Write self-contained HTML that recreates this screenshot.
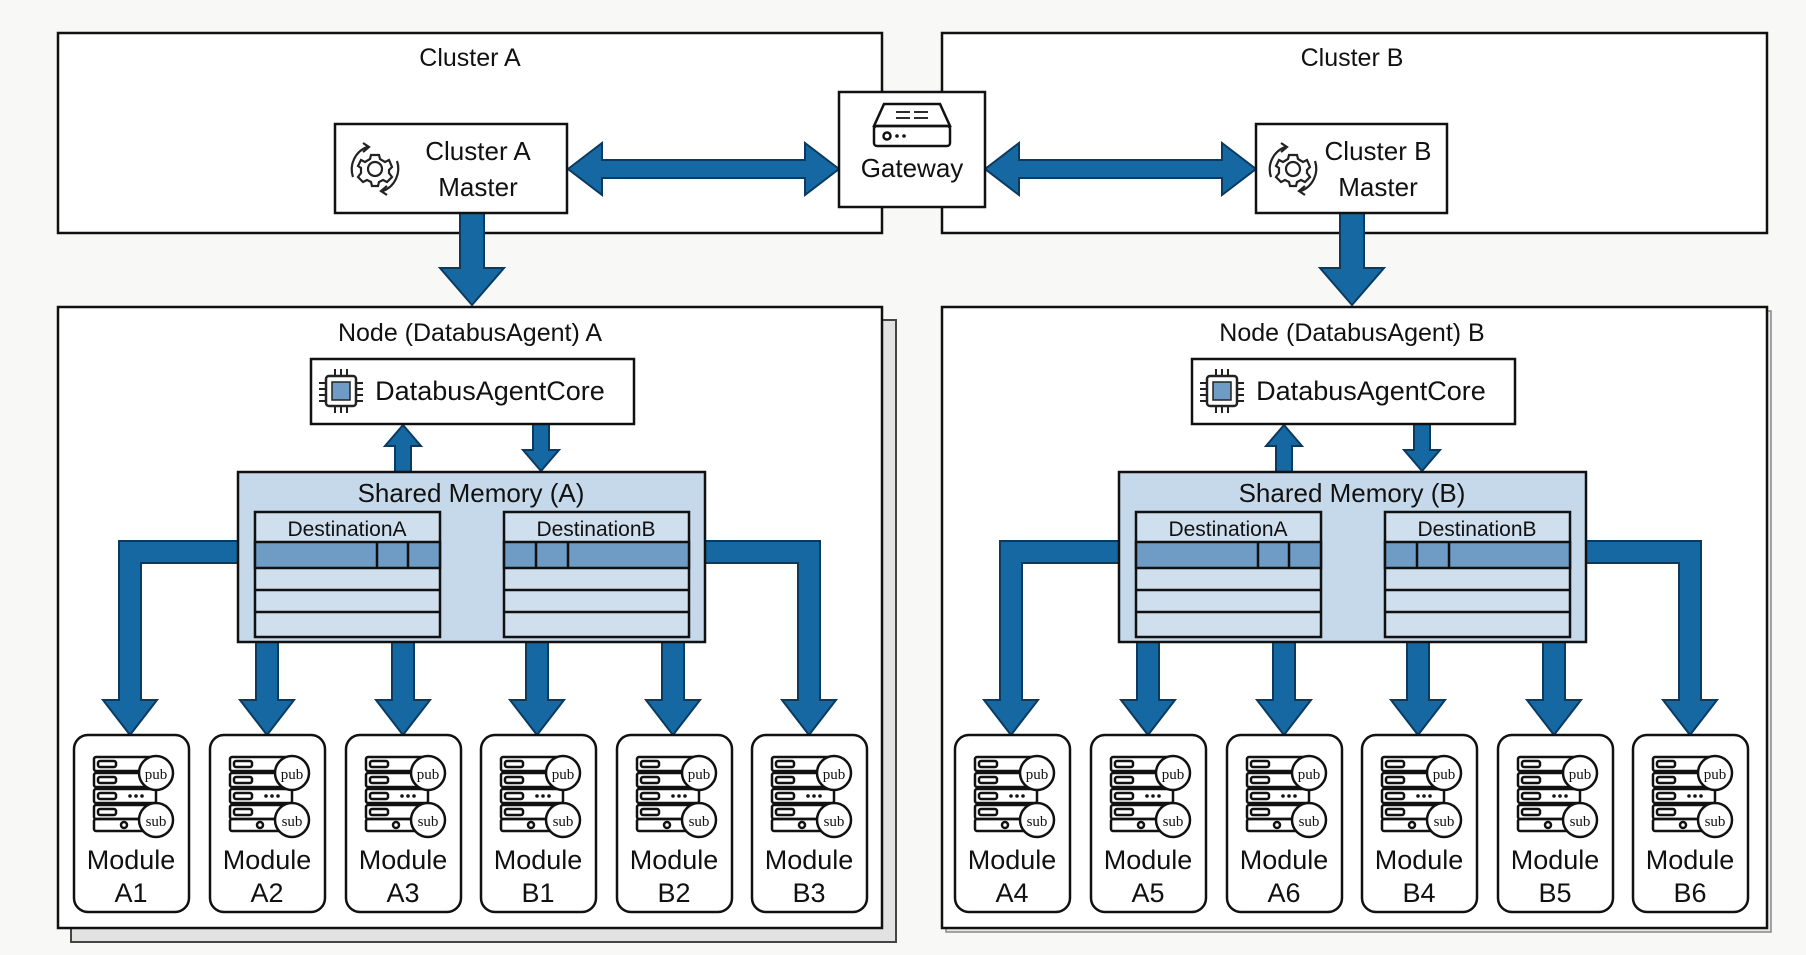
<!DOCTYPE html>
<html><head><meta charset="utf-8"><style>
html,body{margin:0;padding:0;background:#f8f8f6;}
svg{display:block;font-family:"Liberation Sans",sans-serif;}
</style></head><body>
<svg width="1806" height="955" viewBox="0 0 1806 955" xmlns="http://www.w3.org/2000/svg">
<defs>
<g id="mod">
  <rect x="0" y="0" width="115" height="177" rx="14" fill="#fff" stroke="#111" stroke-width="2.5"/>
  <g fill="none" stroke="#111" stroke-width="2.5">
    <rect x="20" y="22" width="62" height="14" rx="2"/>
    <rect x="20" y="38" width="62" height="14" rx="2"/>
    <rect x="20" y="54" width="62" height="14" rx="2"/>
    <rect x="20" y="70" width="62" height="14" rx="2"/>
    <rect x="20" y="84" width="62" height="12" rx="2"/>
    <rect x="24" y="26" width="18" height="6" rx="2"/>
    <rect x="24" y="42" width="18" height="6" rx="2"/>
    <rect x="24" y="58" width="18" height="6" rx="2"/>
    <rect x="24" y="74" width="18" height="6" rx="2"/>
    <circle cx="50" cy="90" r="3"/>
    <circle cx="82" cy="38" r="17" fill="#fff"/>
    <circle cx="82" cy="85" r="17" fill="#fff"/>
  </g>
  <g fill="#111"><circle cx="56" cy="61" r="1.8"/><circle cx="62" cy="61" r="1.8"/><circle cx="68" cy="61" r="1.8"/></g>
  <text x="82" y="44" font-size="15" text-anchor="middle" font-family="Liberation Serif,serif" fill="#111">pub</text>
  <text x="82" y="91" font-size="15" text-anchor="middle" font-family="Liberation Serif,serif" fill="#111">sub</text>
</g>
<g id="tbl">
  <rect x="0" y="0" width="185" height="125" fill="#cfdfee" stroke="#111" stroke-width="2.5"/>
  <rect x="0" y="30" width="185" height="26" fill="#6f9cc4" stroke="#111" stroke-width="2.5"/>
  <line x1="0" y1="78" x2="185" y2="78" stroke="#111" stroke-width="2.5"/>
  <line x1="0" y1="100" x2="185" y2="100" stroke="#111" stroke-width="2.5"/>
</g>
<g id="gear" fill="none" stroke="#222" stroke-width="2.2">
  <circle cx="0" cy="0" r="7"/>
  <path d="M-4,-14 L4,-14 L5,-10 L10,-7 L14,-9 L17,-2 L14,1 L14,4 L17,8 L12,13 L8,11 L4,13 L3,17 L-3,17 L-4,13 L-8,11 L-12,13 L-17,8 L-14,4 L-14,-1 L-17,-3 L-14,-9 L-10,-7 L-5,-10 Z"/>
  <path d="M-22,8 A24,24 0 0 1 -8,-22"/>
  <path d="M22,-8 A24,24 0 0 1 8,22"/>
  <path d="M-12,-26 L-6,-22 L-12,-17"/>
  <path d="M12,26 L6,22 L12,17"/>
</g>
<g id="chip">
  <g stroke="#222" stroke-width="2">
    <line x1="-6" y1="-22" x2="-6" y2="-14"/><line x1="0" y1="-22" x2="0" y2="-14"/><line x1="6" y1="-22" x2="6" y2="-14"/>
    <line x1="-6" y1="14" x2="-6" y2="22"/><line x1="0" y1="14" x2="0" y2="22"/><line x1="6" y1="14" x2="6" y2="22"/>
    <line x1="-22" y1="-8" x2="-14" y2="-8"/><line x1="-22" y1="-2" x2="-14" y2="-2"/><line x1="-22" y1="4" x2="-14" y2="4"/><line x1="-22" y1="10" x2="-14" y2="10"/>
    <line x1="14" y1="-8" x2="22" y2="-8"/><line x1="14" y1="-2" x2="22" y2="-2"/><line x1="14" y1="4" x2="22" y2="4"/><line x1="14" y1="10" x2="22" y2="10"/>
  </g>
  <rect x="-15" y="-15" width="30" height="30" rx="3" fill="#fff" stroke="#222" stroke-width="2.5"/>
  <rect x="-9" y="-9" width="18" height="18" fill="#6f9cc4" stroke="#222" stroke-width="1.5"/>
</g>
<g id="arrowsA" fill="#1668a3" stroke="#0b3a60" stroke-width="2" stroke-linejoin="miter">
  <polygon points="395,472 411,472 411,446 421,446 403,425 385,446 395,446"/>
  <polygon points="533,424 549,424 549,450 559,450 541,471 523,450 533,450"/>
  <polygon points="238,541 119,541 119,700 103,700 130,735 157,700 141,700 141,563 238,563"/>
  <polygon points="704,541 820,541 820,700 836,700 809,735 782,700 798,700 798,563 704,563"/>
  <polygon points="256,640 278,640 278,700 294,700 267,735 240,700 256,700"/>
  <polygon points="392,640 414,640 414,700 430,700 403,735 376,700 392,700"/>
  <polygon points="526,640 548,640 548,700 564,700 537,735 510,700 526,700"/>
  <polygon points="662,640 684,640 684,700 700,700 673,735 646,700 662,700"/>
</g>
<g id="nodeInner">
  <use href="#arrowsA"/>
  <rect x="311" y="359" width="323" height="65" fill="#fff" stroke="#111" stroke-width="2.5"/>
  <use href="#chip" x="341" y="391"/>
  <rect x="238" y="472" width="467" height="170" fill="#c6d9ea" stroke="#111" stroke-width="2.5"/>
  <use href="#tbl" x="255" y="512"/>
  <use href="#tbl" x="504" y="512"/>
  <g stroke="#111" stroke-width="2.5">
    <line x1="377" y1="542" x2="377" y2="568"/><line x1="408" y1="542" x2="408" y2="568"/>
    <line x1="536" y1="542" x2="536" y2="568"/><line x1="568" y1="542" x2="568" y2="568"/>
  </g>
  <use href="#mod" x="74" y="735"/>
  <use href="#mod" x="210" y="735"/>
  <use href="#mod" x="346" y="735"/>
  <use href="#mod" x="481" y="735"/>
  <use href="#mod" x="617" y="735"/>
  <use href="#mod" x="752" y="735"/>
</g>
</defs>

<!-- Cluster boxes -->
<rect x="58" y="33" width="824" height="200" fill="#fff" stroke="#111" stroke-width="2.5"/>
<rect x="942" y="33" width="825" height="200" fill="#fff" stroke="#111" stroke-width="2.5"/>
<text x="470" y="66" font-size="25" text-anchor="middle" fill="#111">Cluster A</text>
<text x="1352" y="66" font-size="25" text-anchor="middle" fill="#111">Cluster B</text>

<!-- Horizontal double arrows -->
<g fill="#1668a3" stroke="#0b3a60" stroke-width="2">
  <polygon points="568,169 602,143 602,160 805,160 805,143 839,169 805,195 805,178 602,178 602,195"/>
  <polygon points="985,169 1019,143 1019,160 1222,160 1222,143 1256,169 1222,195 1222,178 1019,178 1019,195"/>
  <polygon points="460,213 484,213 484,268 504,268 472,305 440,268 460,268"/>
  <polygon points="1340,213 1364,213 1364,268 1384,268 1352,305 1320,268 1340,268"/>
</g>

<!-- Masters -->
<rect x="335" y="124" width="232" height="89" fill="#fff" stroke="#111" stroke-width="2.5"/>
<use href="#gear" x="375" y="169"/>
<text x="478" y="160" font-size="26" text-anchor="middle" fill="#111">Cluster A</text>
<text x="478" y="196" font-size="26" text-anchor="middle" fill="#111">Master</text>
<rect x="1256" y="124" width="191" height="89" fill="#fff" stroke="#111" stroke-width="2.5"/>
<use href="#gear" x="1293" y="169"/>
<text x="1378" y="160" font-size="26" text-anchor="middle" fill="#111">Cluster B</text>
<text x="1378" y="196" font-size="26" text-anchor="middle" fill="#111">Master</text>

<!-- Gateway -->
<rect x="839" y="92" width="146" height="115" fill="#fff" stroke="#111" stroke-width="2.5"/>
<g fill="none" stroke="#111" stroke-width="2.5">
  <path d="M874,126 L884,104 L940,104 L950,126 Z"/>
  <rect x="874" y="126" width="76" height="20" rx="3"/>
  <circle cx="887" cy="136" r="3.5"/>
  <path d="M896,112 L910,112 M896,118 L910,118 M914,112 L928,112 M914,118 L928,118" stroke-width="1.8"/>
</g>
<g fill="#111"><circle cx="897" cy="136" r="1.8"/><circle cx="904" cy="136" r="1.8"/></g>
<text x="912" y="177" font-size="26" text-anchor="middle" fill="#111">Gateway</text>

<!-- Node boxes -->
<rect x="71" y="320" width="825" height="622" fill="#e2e2e2" stroke="#444" stroke-width="2"/>
<rect x="58" y="307" width="824" height="621" fill="#fff" stroke="#111" stroke-width="2.5"/>
<rect x="946" y="311" width="825" height="621" fill="#e8e8e8" stroke="#888" stroke-width="1.5"/>
<rect x="942" y="307" width="825" height="621" fill="#fff" stroke="#111" stroke-width="2.5"/>

<use href="#nodeInner"/>
<use href="#nodeInner" x="881"/>

<!-- Node A texts -->
<g font-size="25" text-anchor="middle" fill="#111">
<text x="470" y="341">Node (DatabusAgent) A</text>
<text x="1352" y="341">Node (DatabusAgent) B</text>
<text x="490" y="400" font-size="27">DatabusAgentCore</text>
<text x="1371" y="400" font-size="27">DatabusAgentCore</text>
<text x="471" y="502" font-size="26">Shared Memory (A)</text>
<text x="1352" y="502" font-size="26">Shared Memory (B)</text>
</g>
<g font-size="21" text-anchor="middle" fill="#111">
<text x="347" y="536">DestinationA</text>
<text x="596" y="536">DestinationB</text>
<text x="1228" y="536">DestinationA</text>
<text x="1477" y="536">DestinationB</text>
</g>
<g font-size="27" text-anchor="middle" fill="#111">
<text x="131" y="869">Module</text><text x="131" y="902">A1</text>
<text x="267" y="869">Module</text><text x="267" y="902">A2</text>
<text x="403" y="869">Module</text><text x="403" y="902">A3</text>
<text x="538" y="869">Module</text><text x="538" y="902">B1</text>
<text x="674" y="869">Module</text><text x="674" y="902">B2</text>
<text x="809" y="869">Module</text><text x="809" y="902">B3</text>
<text x="1012" y="869">Module</text><text x="1012" y="902">A4</text>
<text x="1148" y="869">Module</text><text x="1148" y="902">A5</text>
<text x="1284" y="869">Module</text><text x="1284" y="902">A6</text>
<text x="1419" y="869">Module</text><text x="1419" y="902">B4</text>
<text x="1555" y="869">Module</text><text x="1555" y="902">B5</text>
<text x="1690" y="869">Module</text><text x="1690" y="902">B6</text>
</g>
</svg>
</body></html>
